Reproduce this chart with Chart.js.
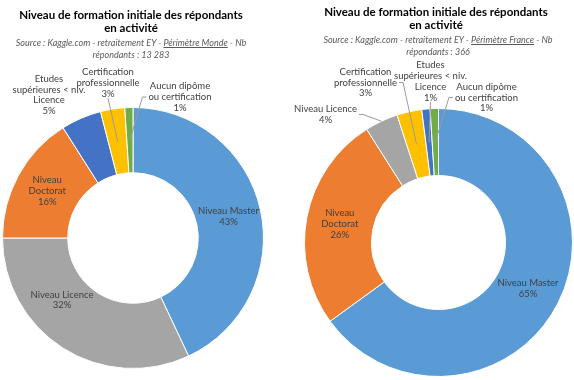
<!DOCTYPE html>
<html lang="fr">
<head>
  <meta charset="UTF-8">
  <title>Niveau de formation initiale des répondants</title>
  <script src="https://cdn.jsdelivr.net/npm/chart.js@4.4.1/dist/chart.umd.min.js"></script>
  <style>
    body {
      margin: 0;
      background: #ffffff;
    }

    #wrap {
      position: relative;
      width: 574px;
      height: 380px;
      overflow: hidden;
    }

    canvas {
      position: absolute;
      top: 0;
    }

    .title {
      position: absolute;
      text-align: center;
      font-family: 'Lato', sans-serif;
      font-weight: bold;
      font-size: 11.5px;
      line-height: 13px;
      color: #000000;
    }

    .sub {
      position: absolute;
      text-align: center;
      font-family: 'Lato', sans-serif;
      font-style: italic;
      font-size: 9px;
      line-height: 11.5px;
      color: #595959;
    }
  </style>
</head>
<body>
  <div id="wrap">
    <canvas id="monde" width="287" height="380" style="left:0"></canvas>
    <canvas id="france" width="287" height="380" style="left:287px"></canvas>

    <div class="title" style="left:0; width:262px; top:8px">Niveau de formation initiale des répondants<br>en activité</div>
    <div class="sub" style="left:0; width:262px; top:37px">Source : Kaggle.com - retraitement EY - <u>Périmètre Monde</u> - Nb<br>répondants : 13 283</div>

    <div class="title" style="left:300px; width:272px; top:5px">Niveau de formation initiale des répondants<br>en activité</div>
    <div class="sub" style="left:302px; width:272px; top:34px">Source : Kaggle.com - retraitement EY - <u>Périmètre France</u> - Nb<br>répondants : 366</div>
  </div>

  <script>
    // Catégories et valeurs (%)
    const categories = ['Niveau Master', 'Niveau Licence', 'Niveau Doctorat', 'Etudes supérieures < niv. Licence', 'Certification professionnelle', 'Aucun dipôme ou certification'];
    const categoryColors = ['#5B9BD5', '#A5A5A5', '#ED7D31', '#4472C4', '#FFC000', '#70AD47'];
    const mondeValues = [43, 32, 16, 5, 3, 1];
    const franceValues = [65, 4, 26, 1, 3, 1];

    // Découpage des étiquettes sur plusieurs lignes
    const labelLines = [
      ['Niveau Master'],
      ['Niveau Licence'],
      ['Niveau', 'Doctorat'],
      ['Etudes', 'supérieures < niv.', 'Licence'],
      ['Certification', 'professionnelle'],
      ['Aucun dipôme', 'ou certification']
    ];

    // Étiquettes déplacées hors de l'anneau (décalage depuis le centre)
    const mondeLabelPlacement = {
      1: { dx: -71, dy: 62 },
      3: { dx: -84, dy: -143 },
      4: { dx: -25, dy: -155, leader: 'bottom' },
      5: { dx: 47, dy: -141, leader: 'left' }
    };
    const franceLabelPlacement = {
      1: { dx: -113, dy: -128, leader: 'right', anchor: 'outer' },
      3: { dx: -8, dy: -161, leader: 'bottom' },
      4: { dx: -73, dy: -160, leader: 'right' },
      5: { dx: 48, dy: -145, leader: 'left' }
    };

    // Plugin pour dessiner les étiquettes et les lignes de repère
    const sliceLabels = {
      id: 'sliceLabels',
      afterDatasetsDraw(chart, args, opts) {
        const ctx = chart.ctx;
        const meta = chart.getDatasetMeta(0);
        const values = chart.data.datasets[0].data;
        const lh = 10.8;
        ctx.save();
        ctx.font = '9.5px Lato';
        ctx.textAlign = 'center';
        ctx.textBaseline = 'middle';
        ctx.strokeStyle = '#9a9a9a';
        ctx.lineWidth = 1;

        meta.data.forEach((arc, i) => {
          const cat = opts.order[i];
          const lines = labelLines[cat].concat(values[i] + '%');
          const p = arc.getProps(['x', 'y', 'startAngle', 'endAngle', 'innerRadius', 'outerRadius'], true);
          const mid = (p.startAngle + p.endAngle) / 2;
          const midR = (p.innerRadius + p.outerRadius) / 2;
          const place = opts.placement[cat];
          let cx, cy;
          if (place) {
            cx = p.x + place.dx;
            cy = p.y + place.dy;
          } else {
            cx = p.x + Math.cos(mid) * midR;
            cy = p.y + Math.sin(mid) * midR;
          }

          if (place && place.leader) {
            const w = Math.max(...lines.map(t => ctx.measureText(t).width));
            const h = lines.length * lh;
            const ar = place.anchor === 'outer' ? p.outerRadius : midR;
            const ax = p.x + Math.cos(mid) * ar;
            const ay = p.y + Math.sin(mid) * ar;
            ctx.beginPath();
            if (place.leader === 'bottom') {
              ctx.moveTo(cx, cy + h / 2 - 1);
            } else {
              const side = place.leader === 'left' ? -1 : 1;
              const ex = cx + side * (w / 2 + 2);
              ctx.moveTo(ex, cy);
              ctx.lineTo(ex + side * 4, cy);
            }
            ctx.lineTo(ax, ay);
            ctx.stroke();
          }

          ctx.fillStyle = '#404040';
          const top = cy - (lines.length - 1) * lh / 2;
          lines.forEach((t, k) => ctx.fillText(t, cx, top + k * lh));
        });
        ctx.restore();
      }
    };

    // Tri décroissant (stable) comme dans le graphique d'origine
    function sortedOrder(values) {
      return values.map((v, i) => i).sort((a, b) => values[b] - values[a]);
    }

    function makeChart(id, values, placement, padding) {
      const order = sortedOrder(values);
      return new Chart(document.getElementById(id), {
        type: 'doughnut',
        data: {
          labels: order.map(i => categories[i]),
          datasets: [{
            data: order.map(i => values[i]),
            backgroundColor: order.map(i => categoryColors[i]),
            borderColor: '#ffffff',
            borderWidth: 1
          }]
        },
        options: {
          responsive: false,
          animation: false,
          cutout: '50%',
          layout: { padding: padding },
          plugins: {
            legend: { display: false },
            tooltip: { enabled: false },
            sliceLabels: { order: order, placement: placement }
          }
        },
        plugins: [sliceLabels]
      });
    }

    makeChart('monde', mondeValues, mondeLabelPlacement, { left: 2, right: 23, top: 107, bottom: 11 });
    makeChart('france', franceValues, franceLabelPlacement, { left: 17, right: 1, top: 108, bottom: 3 });
  </script>
</body>
</html>
